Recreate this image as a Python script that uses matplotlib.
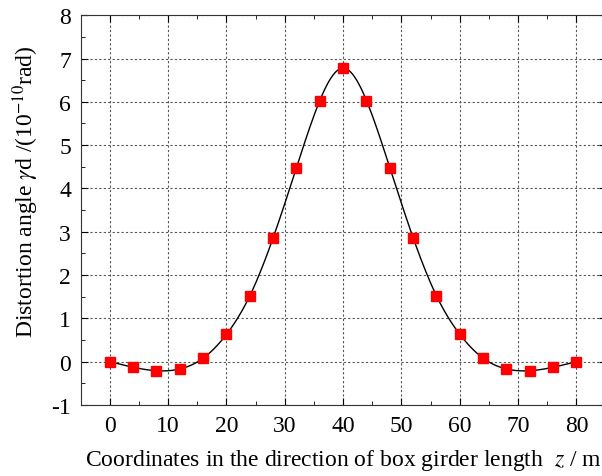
import numpy as np
import matplotlib
matplotlib.use("Agg")
import matplotlib.pyplot as plt
from matplotlib.ticker import MultipleLocator

# data
z = [0, 4, 8, 12, 16, 20, 24, 28, 32, 36, 40,
     44, 48, 52, 56, 60, 64, 68, 72, 76, 80]
angle = [0.0, -0.13, -0.21, -0.17, 0.08, 0.63, 1.52, 2.86, 4.48, 6.03, 6.78,
         6.03, 4.48, 2.86, 1.52, 0.63, 0.08, -0.17, -0.21, -0.13, 0.0]


def natural_spline(x, y, n=400):
    """smooth curve through the points (natural cubic spline)"""
    x = np.asarray(x, float)
    y = np.asarray(y, float)
    k = len(x)
    h = np.diff(x)
    A = np.zeros((k, k))
    b = np.zeros(k)
    A[0, 0] = A[-1, -1] = 1
    for i in range(1, k - 1):
        A[i, i - 1] = h[i - 1]
        A[i, i] = 2 * (h[i - 1] + h[i])
        A[i, i + 1] = h[i]
        b[i] = 6 * ((y[i + 1] - y[i]) / h[i] - (y[i] - y[i - 1]) / h[i - 1])
    m = np.linalg.solve(A, b)
    xs = np.linspace(x[0], x[-1], n)
    idx = np.clip(np.searchsorted(x, xs) - 1, 0, k - 2)
    x0, x1 = x[idx], x[idx + 1]
    hh = x1 - x0
    t0, t1 = x1 - xs, xs - x0
    ys = (m[idx] * t0 ** 3 + m[idx + 1] * t1 ** 3) / (6 * hh) \
        + (y[idx] / hh - m[idx] * hh / 6) * t0 \
        + (y[idx + 1] / hh - m[idx + 1] * hh / 6) * t1
    return xs, ys


plt.rcParams["font.family"] = ["Liberation Serif", "DejaVu Serif"]
plt.rcParams["mathtext.fontset"] = "stix"
plt.rcParams["axes.unicode_minus"] = False

fig = plt.figure(figsize=(6.02, 4.77), dpi=100)
ax = fig.add_axes([0.134, 0.149, 0.872, 0.817])

xs, ys = natural_spline(z, angle)
ax.plot(xs, ys, color="black", linewidth=1.0, zorder=2)
ax.plot(z, angle, "s", color="red", markersize=7, zorder=3)

ax.set_xlim(-5, 85)
ax.set_ylim(-1, 8)
ax.xaxis.set_major_locator(MultipleLocator(10))
ax.xaxis.set_minor_locator(MultipleLocator(5))
ax.yaxis.set_major_locator(MultipleLocator(1))
ax.yaxis.set_minor_locator(MultipleLocator(0.5))
ax.tick_params(which="both", direction="in", top=True, right=True,
               labelsize=17, pad=7)
ax.tick_params(which="major", length=5)
ax.tick_params(which="minor", length=3)
ax.grid(True, which="major", linestyle=(0, (2, 2)), color="#555555",
        linewidth=0.8)
ax.set_axisbelow(True)
for s in ax.spines.values():
    s.set_color("#333333")

ax.set_xlabel("Coordinates in the direction of box girder length  $z$ / m",
              fontsize=17, labelpad=8)
ax.set_ylabel("Distortion angle $\\gamma$d /(10$^{-10}$rad)", fontsize=17)
ax.yaxis.set_label_coords(-0.075, 0.55)

fig.savefig("out.png", dpi=100)
